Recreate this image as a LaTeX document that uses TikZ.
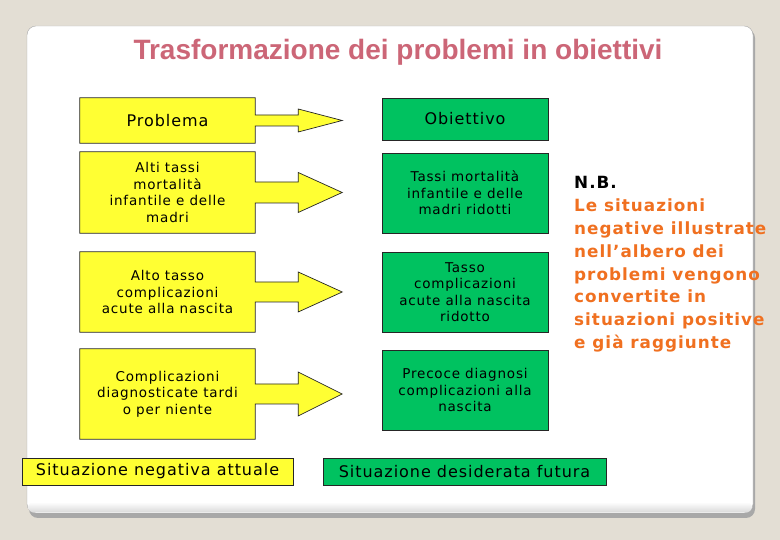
\documentclass[tikz,border=0pt]{standalone}
\usepackage{fontspec}
\setmainfont{DejaVu Sans}
\newfontfamily\testofont{DejaVu Sans}[LetterSpace=6]
\newfontfamily\titolofont{Liberation Sans}
\usetikzlibrary{calc,positioning}

\definecolor{sfondo}{RGB}{227,222,212}
\definecolor{giallo}{RGB}{255,255,51}
\definecolor{verde}{RGB}{0,194,96}
\definecolor{rosa}{RGB}{204,102,119}
\definecolor{arancio}{RGB}{240,112,32}
\definecolor{bordogrigio}{RGB}{168,168,168}

\pgfdeclarelayer{fondo}
\pgfdeclarelayer{frecce}
\pgfsetlayers{fondo,frecce,main}

\tikzset{
  contorno/.style={draw=black!85,line width=.7pt},
  problema/.style={minimum width=175pt,inner sep=0pt,align=center,
    font=\testofont\fontsize{13.5}{16.5}\selectfont},
  obiettivo/.style={contorno,fill=verde,minimum width=166pt,minimum height=80pt,
    inner sep=0pt,align=center,font=\testofont\fontsize{13.5}{16.5}\selectfont},
  etichetta/.style={contorno,minimum height=27pt,inner sep=0pt,
    font=\testofont\fontsize{16}{18}\selectfont},
}

% box giallo + freccia: nodo, mezzo gambo, mezza punta
\newcommand{\freccia}[3]{%
  \begin{pgfonlayer}{frecce}
  \draw[contorno,fill=giallo] (#1.north west) -- (#1.north east)
    -- ($(#1.east)+(0,#2)$) -- ++(43,0) -- ++(0,#3-#2)
    -- ($(#1.east)+(87,0)$)
    -- ($(#1.east)+(43,-#3)$) -- ++(0,#3-#2)
    -- ($(#1.east)+(0,-#2)$) -- (#1.south east) -- (#1.south west) -- cycle;
  \end{pgfonlayer}}

\begin{document}
\begin{tikzpicture}[x=1pt,y=1pt]
\useasboundingbox (0,0) rectangle (780,540);

\begin{pgfonlayer}{fondo}
\fill[sfondo] (0,0) rectangle (780,540);
\fill[bordogrigio,rounded corners=9pt] (29,22) rectangle (755,511);
\draw[fill=white,draw=bordogrigio,rounded corners=9pt] (27,27) rectangle (753,514);
\shade[top color=white,bottom color=black!15,rounded corners=6pt] (28,27.5) rectangle (752,38);
\end{pgfonlayer}

\node[font=\titolofont\bfseries\fontsize{28}{32}\selectfont,text=rosa] (titolo) at (398,488)
  {Trasformazione dei problemi in obiettivi};

% problemi
\node[problema,minimum height=45pt,font=\testofont\fontsize{16}{18}\selectfont] (p0) at (167.5,419.5) {Problema};
\node[problema,minimum height=81pt] (p1) at (167.5,347.5) {Alti tassi\\mortalità\\infantile e delle\\madri};
\node[problema,minimum height=80pt] (p2) at (167.5,248) {Alto tasso\\complicazioni\\acute alla nascita};
\node[problema,minimum height=90pt] (p3) at (167.5,146) {Complicazioni\\diagnosticate tardi\\o per niente};

\freccia{p0}{5.5}{11.5}
\freccia{p1}{10.5}{20}
\freccia{p2}{10}{20}
\freccia{p3}{10}{22}

% obiettivi
\node[obiettivo,minimum height=42pt,font=\testofont\fontsize{16}{18}\selectfont] (o0) at (465,421) {Obiettivo};
\node[obiettivo] (o1) at (465,347) {Tassi mortalità\\infantile e delle\\madri ridotti};
\node[obiettivo] (o2) at (465,248) {Tasso\\complicazioni\\acute alla nascita\\ridotto};
\node[obiettivo] (o3) at (465,150) {Precoce diagnosi\\complicazioni alla\\nascita};

\node[etichetta,fill=giallo,minimum width=271pt] (negativa) at (157.5,68.5) {Situazione negativa attuale};
\node[etichetta,fill=verde,minimum width=283pt] (futura) at (464.5,68.5) {Situazione desiderata futura};

% nota
\node[anchor=north west,inner sep=0pt,align=left,text=arancio,
  font=\testofont\bfseries\fontsize{16.8}{22.9}\selectfont] (nb) at (574,364)
  {\textcolor{black}{N.B.}\\Le situazioni\\negative illustrate\\nell’albero dei\\problemi vengono\\convertite in\\situazioni positive\\e già raggiunte};

\end{tikzpicture}
\end{document}
